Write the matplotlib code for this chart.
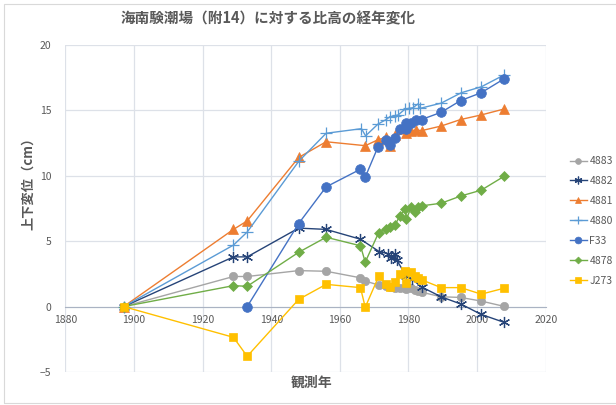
import matplotlib
matplotlib.use('Agg')
import matplotlib.pyplot as plt
from matplotlib.patches import Rectangle

plt.rcParams['font.family'] = ['Noto Sans CJK JP', 'DejaVu Sans']

# ==================== Data ====================
yr_4883 = [1897, 1929, 1933, 1948, 1956, 1966, 1967.4, 1971.3, 1973.5, 1974.5, 1976, 1977.5, 1979,
           1979.4, 1980.8, 1981.8, 1982.8, 1983.8, 1989.5, 1995.2, 2001.2, 2007.8]
v_4883 = [0, 2.3, 2.3, 2.75, 2.7, 2.2, 1.95, 1.65, 1.55, 1.5, 1.45, 1.4, 1.45,
          1.35, 1.4, 1.3, 1.2, 1.1, 0.75, 0.7, 0.42, 0.02]

yr_4882 = [1897, 1929, 1933, 1948, 1956, 1966, 1971.5, 1974, 1975, 1976, 1976.6, 1979.4,
           1981, 1983.8, 1989.5, 1995.2, 2001.2, 2007.8]
v_4882 = [0, 3.8, 3.8, 6.0, 5.9, 5.15, 4.2, 4.05, 3.7, 4.05, 3.55, 2.3,
          2.1, 1.5, 0.75, 0.2, -0.6, -1.2]

yr_4881 = [1897, 1929, 1933, 1948, 1956, 1967.4, 1971.1, 1973.5, 1974.5, 1976, 1979.3,
           1980.8, 1982.3, 1983.8, 1989.5, 1995.2, 2001.2, 2007.8]
v_4881 = [0, 5.9, 6.55, 11.4, 12.6, 12.3, 12.75, 12.95, 12.25, 13.1, 13.25,
          13.4, 13.5, 13.45, 13.8, 14.3, 14.65, 15.1]

yr_4880 = [1897, 1929, 1933, 1948, 1956, 1966.3, 1967.5, 1971.1, 1973.5, 1974.5, 1976, 1977,
           1979, 1980.1, 1981.3, 1982.8, 1983.3, 1989.5, 1995.4, 2001.2, 2007.8]
v_4880 = [0, 4.7, 5.7, 11.1, 13.25, 13.6, 13.05, 13.95, 14.3, 14.5, 14.6, 14.65,
          15.1, 15.15, 15.2, 15.5, 15.15, 15.55, 16.35, 16.8, 17.7]

yr_f33 = [1933, 1948, 1956, 1966, 1967.4, 1971.1, 1973.5, 1974.5, 1976, 1977.5, 1979.2,
          1979.4, 1980.8, 1982.3, 1983.8, 1989.5, 1995.2, 2001.2, 2007.8]
v_f33 = [0, 6.35, 9.15, 10.5, 9.9, 12.2, 12.7, 12.35, 12.9, 13.55, 13.55,
         14.0, 14.05, 14.25, 14.3, 14.85, 15.75, 16.35, 17.4]

yr_4878 = [1897, 1929, 1933, 1948, 1956, 1966, 1967.4, 1971.3, 1973.5, 1974.5, 1976, 1977.5,
           1979, 1979.4, 1980.8, 1981.8, 1982.8, 1983.8, 1989.5, 1995.2, 2001.2, 2007.8]
v_4878 = [0, 1.6, 1.55, 4.15, 5.3, 4.65, 3.4, 5.65, 5.95, 6.05, 6.2, 6.95,
          7.45, 6.7, 7.6, 7.2, 7.6, 7.7, 7.9, 8.45, 8.9, 9.95]

yr_j273 = [1897, 1929, 1933, 1948, 1956, 1966, 1967.4, 1971.3, 1973.5, 1974.5, 1976, 1977.5,
           1979, 1979.4, 1980.8, 1981.8, 1982.8, 1983.8, 1989.5, 1995.2, 2001.2, 2007.8]
v_j273 = [0, -2.35, -3.8, 0.55, 1.7, 1.45, -0.05, 2.3, 1.7, 1.5, 1.9, 2.5,
          2.75, 1.8, 2.65, 2.35, 2.15, 2.05, 1.45, 1.45, 0.95, 1.4]

series = [
    ('4883', yr_4883, v_4883, '#A5A5A5', 'o', 6),
    ('4882', yr_4882, v_4882, '#264478', (6, 2, 0), 8),
    ('4881', yr_4881, v_4881, '#ED7D31', '^', 7),
    ('4880', yr_4880, v_4880, '#5B9BD5', '+', 9),
    ('F33', yr_f33, v_f33, '#4472C4', 'o', 7),
    ('4878', yr_4878, v_4878, '#70AD47', 'D', 5),
    ('J273', yr_j273, v_j273, '#FFC000', 's', 6),
]

# ==================== Plot ====================
txt = '#595959'
fig = plt.figure(figsize=(6.16, 4.05), dpi=100)
ax = fig.add_axes([0.106, 0.0815, 0.78, 0.8075])

for name, xs, ys, c, m, ms in series:
    ax.plot(xs, ys, color=c, linewidth=1.0, marker=m, markersize=ms,
            markeredgewidth=0.9 if m in ('+', (6, 2, 0)) else 0.5,
            markeredgecolor=c, markerfacecolor=c, label=name)

ax.set_xlim(1880, 2020)
ax.set_ylim(-5, 20)
ax.set_xticks(range(1880, 2021, 20))
ax.set_yticks(range(-5, 21, 5))
ax.grid(True, color='#dde1e8', linewidth=0.9)
ax.set_axisbelow(True)
for s in ['top', 'right', 'left']:
    ax.spines[s].set_visible(False)
ax.spines['bottom'].set_position(('data', 0))
ax.spines['bottom'].set_color('#aab3c3')
ax.spines['bottom'].set_zorder(1)
ax.tick_params(length=0, labelsize=7.5, labelcolor=txt)
ax.tick_params(axis='x', pad=6)
ax.tick_params(axis='y', pad=10)

fig.text(0.435, 0.955, '海南験潮場（附14）に対する比高の経年変化', ha='center', va='center',
         fontsize=10.5, fontweight='bold', color=txt)
fig.text(0.045, 0.555, '上下変位（cm）', rotation=90, ha='center', va='center',
         fontsize=9.5, fontweight='bold', color=txt)
fig.text(0.505, 0.055, '観測年', ha='center', va='center',
         fontsize=10, fontweight='bold', color=txt)

leg = ax.legend(loc='center left', bbox_to_anchor=(1.03, 0.462), frameon=False,
                fontsize=7.5, labelcolor=txt, handlelength=1.7, handletextpad=0.2,
                labelspacing=0.95, markerscale=0.7)

fig.patches.append(Rectangle((0.006, 0.004), 1.2, 0.985, transform=fig.transFigure,
                             fill=False, edgecolor='#d9d9d9', linewidth=0.8))

fig.savefig('out.png', dpi=100)
